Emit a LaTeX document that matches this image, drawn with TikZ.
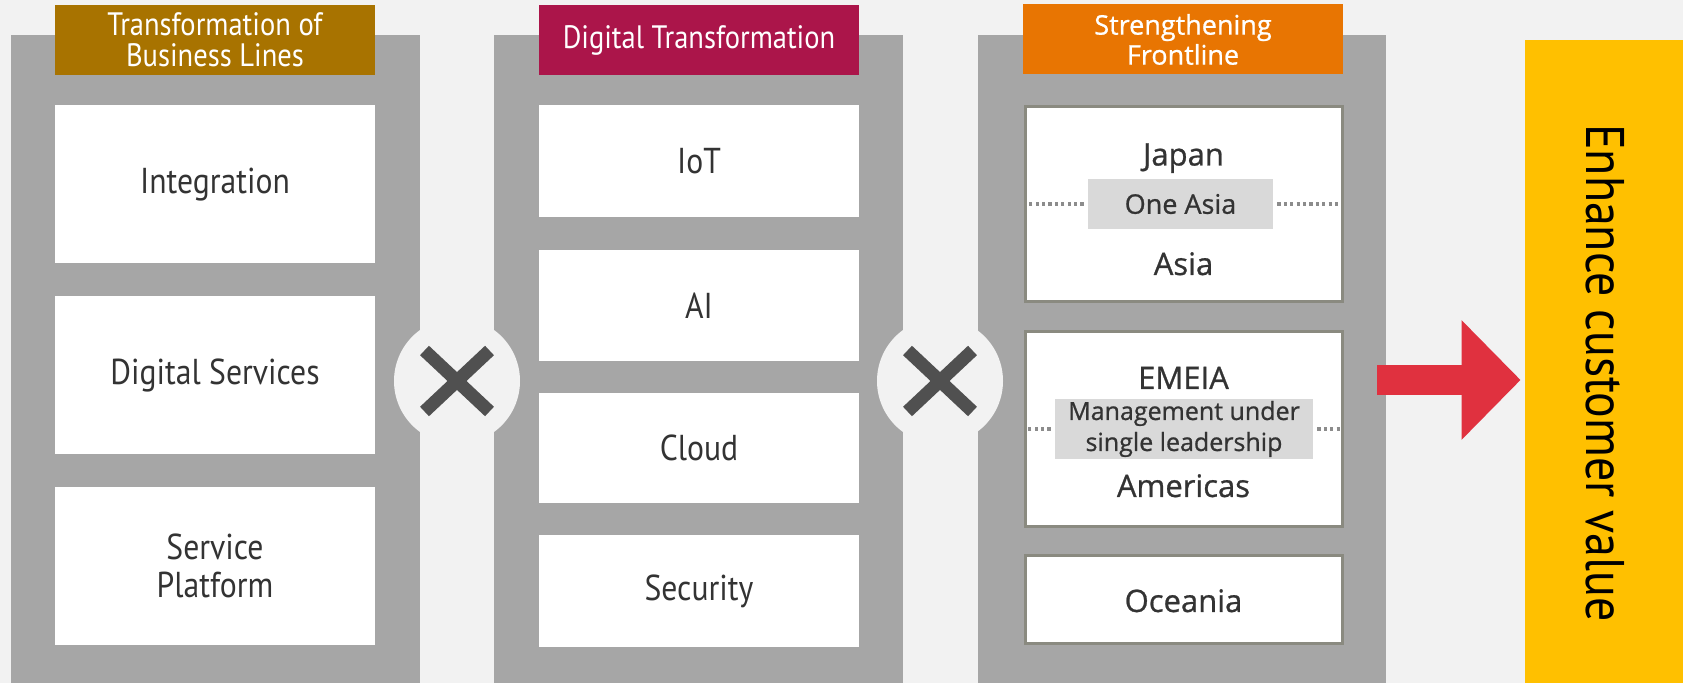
\documentclass[tikz,border=0pt]{standalone}
\usepackage{fontspec}
\setmainfont{PT Sans}[FakeStretch=0.88]
\newfontfamily\regionfont{Open Sans}[FakeBold=0.8]
\usetikzlibrary{positioning,shapes.misc,arrows.meta}
\definecolor{bggray}{HTML}{F2F2F2}
\definecolor{colgray}{HTML}{A6A6A6}
\definecolor{hdrbrown}{HTML}{A87300}
\definecolor{hdrred}{HTML}{AB154A}
\definecolor{hdrorange}{HTML}{E87502}
\definecolor{txtgray}{HTML}{333333}
\definecolor{rimgray}{HTML}{8A8A80}
\definecolor{notegray}{HTML}{D9D9D9}
\definecolor{dotgray}{HTML}{8C8C8C}
\definecolor{crossgray}{HTML}{505050}
\definecolor{arrowred}{HTML}{E0313F}
\definecolor{valueyellow}{HTML}{FFC000}
\tikzset{
% Pillars: coloured heading and white items on a grey column
pillar head/.style={fill=#1,text=white,minimum width=160pt,minimum height=35pt,inner sep=0,align=center,font=\fontsize{16.2}{15.6}\selectfont},
pillar item/.style={fill=white,text=txtgray,minimum width=160pt,minimum height=#1,inner sep=0,align=center,font=\fontsize{18}{19}\selectfont},
% Regions of the third pillar
region box/.style={fill=white,draw=rimgray,line width=1.5pt,minimum width=158.5pt,minimum height=#1,inner sep=0},
region/.style={text=txtgray,anchor=base,font=\regionfont\fontsize{15.5}{18}\selectfont},
note/.style={fill=notegray,text=txtgray,inner sep=0,align=center,font=\regionfont\fontsize{12.5}{15.5}\selectfont},
dotline/.style={draw=dotgray,line width=2pt,dash pattern=on 1.6pt off 1.6pt,shorten <=2pt,shorten >=2pt},
% Multiplication signs between the pillars
times disc/.style={circle,fill=bggray,minimum size=63pt,inner sep=0},
times sign/.style={cross out,draw=crossgray,line width=6.5pt,minimum width=26pt,minimum height=24pt,inner sep=0}
}
\begin{document}
\begin{tikzpicture}[x=0.5pt,y=-0.5pt]
\useasboundingbox (0,0) rectangle (1683,683);
\fill[bggray] (0,0) rectangle (1683,683);
% grey columns
\fill[colgray] (11,35) rectangle (420,683);
\fill[colgray] (494,35) rectangle (903,683);
\fill[colgray] (978,35) rectangle (1386,683);
% first pillar
\node[pillar head=hdrbrown] (bizhead) at (215,40) {Transformation of\\Business Lines};
\node[pillar item=79pt] (integration) at (215,184.5) {Integration};
\node[pillar item=79pt,below=16pt of integration] (digserv) {Digital Services};
\node[pillar item=79pt,below=16pt of digserv] (platform) {Service\\Platform};
% second pillar
\node[pillar head=hdrred] (dxhead) at (699,40) {Digital Transformation};
\node[pillar item=56pt] (iot) at (699,161) {IoT};
\node[pillar item=55.5pt,below=16pt of iot] (ai) {AI};
\node[pillar item=55pt,below=15.5pt of ai] (cloud) {Cloud};
\node[pillar item=56pt,below=16pt of cloud] (security) {Security};
% third pillar
\node[pillar head=hdrorange,font=\regionfont\fontsize{13.5}{15}\selectfont] (fronthead) at (1183,39.5) {Strengthening\\Frontline};
\node[region box=97.5pt] (asiabox) at (1183.5,204) {};
\node[region box=97.5pt] (emeiabox) at (1183.5,429) {};
\node[region box=44pt] (oceaniabox) at (1183.5,600) {};
\node[note,minimum width=92.5pt,minimum height=25pt,font=\regionfont\fontsize{13.5}{15.5}\selectfont] (oneasia) at (1180.5,204) {One Asia};
\node[note,minimum width=129pt,minimum height=30pt] (mgmt) at (1184,429) {Management under\\single leadership};
\draw[dotline] (oneasia.west) -- (oneasia.west -| asiabox.west);
\draw[dotline] (oneasia.east) -- (oneasia.east -| asiabox.east);
\draw[dotline] (mgmt.west) -- (mgmt.west -| emeiabox.west);
\draw[dotline] (mgmt.east) -- (mgmt.east -| emeiabox.east);
\node[region] (japan) at (1183.5,165.5) {Japan};
\node[region] (asia) at (1183.5,275) {Asia};
\node[region] (emeia) at (1183.5,389) {EMEIA};
\node[region] (americas) at (1183.5,497) {Americas};
\node[region] (oceania) at (1183.5,612) {Oceania};
% multiplication signs
\node[times disc] (times1) at (457,381) {};
\node[times sign] (cross1) at (times1) {};
\node[times disc] (times2) at (940,381) {};
\node[times sign] (cross2) at (times2) {};
% result
\node[fill=valueyellow,minimum width=79pt,minimum height=321.5pt,inner sep=0] (value) at (1604,361.5) {};
\node[rotate=-90,text=black,font=\fontsize{27.2}{30}\selectfont] (valuetext) at (1605.5,373) {Enhance customer value};
\coordinate (arrowtail) at (1377,380);
\draw[draw=arrowred,line width=15pt,-{Triangle[length=29.5pt,width=58pt]},shorten >=2pt] (arrowtail) -- (value.west |- arrowtail);
\end{tikzpicture}
\end{document}
